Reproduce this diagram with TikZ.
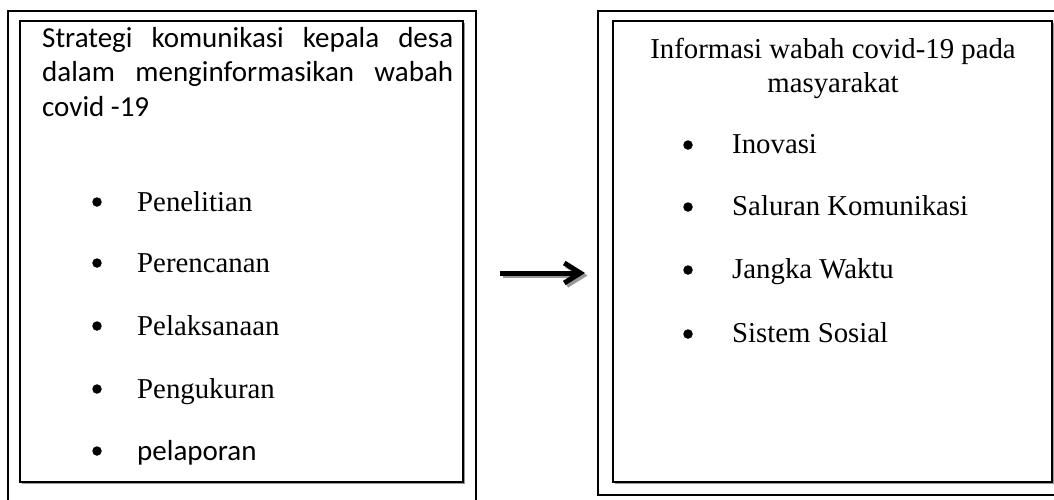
\documentclass[tikz,border=0pt]{standalone}
\usepackage{fontspec}
\setmainfont{Liberation Serif}
\newfontfamily\calibri{Carlito}
\usetikzlibrary{arrows.meta,shadows}
\hbadness=10000
\begin{document}
\begin{tikzpicture}[x=1pt,y=-1pt,
  outerframe/.style={draw=black, line width=1.8pt, outer sep=0pt, inner sep=0pt, anchor=north west},
  innerframe/.style={draw=black, line width=1.8pt, outer sep=0pt, inner sep=0pt, anchor=north west, fill=white,
     drop shadow={shadow xshift=2pt, shadow yshift=-2pt, fill=black!40, opacity=1}},
  bul/.style={circle, fill=black, inner sep=0pt, minimum size=9.5pt},
  itm/.style={anchor=base west, inner sep=0pt, font=\fontsize{28.8}{34}\selectfont},
  cal/.style={anchor=base west, inner sep=0pt, font=\calibri\fontsize{29}{34}\selectfont},
  ttl/.style={anchor=base, inner sep=0pt, font=\fontsize{28.8}{34}\selectfont},
  arr/.style={line width=5pt, -{Straight Barb[length=16pt,width=20pt]}},
  ]
\useasboundingbox (0,0) rectangle (1054,499);
\clip (0,0) rectangle (1054,499);
\fill[white] (0,0) rectangle (1054,499);
% frames
\node[outerframe, minimum width=468pt, minimum height=499pt] (LO) at (8,11) {};
\node[innerframe, minimum width=443pt, minimum height=461pt] (LI) at (20,21) {};
\node[outerframe, minimum width=480pt, minimum height=484pt] (RO) at (598,11) {};
\node[innerframe, minimum width=439pt, minimum height=461pt] (RI) at (613,21) {};
% left text
\node[cal] (l1) at (42,47) {\makebox[411pt][s]{Strategi komunikasi kepala desa}};
\node[cal] (l2) at (42,81) {\makebox[411pt][s]{dalam menginformasikan wabah}};
\node[cal] (l3) at (42,116) {covid -19};
\node[bul] (bl1) at (97,202) {};
\node[itm] (p1) at (137,211) {Penelitian};
\node[bul] (bl2) at (97,263) {};
\node[itm] (p2) at (137,272) {Perencanan};
\node[bul] (bl3) at (97,326) {};
\node[itm] (p3) at (137,335) {Pelaksanaan};
\node[bul] (bl4) at (97,389) {};
\node[itm] (p4) at (137,398) {Pengukuran};
\node[bul] (bl5) at (97,451) {};
\node[cal] (p5) at (137,460) {pelaporan};
% right text
\node[ttl] (t1) at (833,58) {Informasi wabah covid-19 pada};
\node[ttl] (t2) at (833,92) {masyarakat};
\node[bul] (br1) at (688,145) {};
\node[itm] (q1) at (732,153) {Inovasi};
\node[bul] (br2) at (688,207) {};
\node[itm] (q2) at (732,215) {Saluran Komunikasi};
\node[bul] (br3) at (688,270) {};
\node[itm] (q3) at (732,278) {Jangka Waktu};
\node[bul] (br4) at (688,334) {};
\node[itm] (q4) at (732,342) {Sistem Sosial};
% arrow
\coordinate (a1) at (500,273);
\coordinate (a2) at (585,273);
\draw[arr, black!40, transform canvas={shift={(2.5pt,-2.5pt)}}] (a1) -- (a2);
\draw[arr] (a1) -- (a2);
\end{tikzpicture}
\end{document}
